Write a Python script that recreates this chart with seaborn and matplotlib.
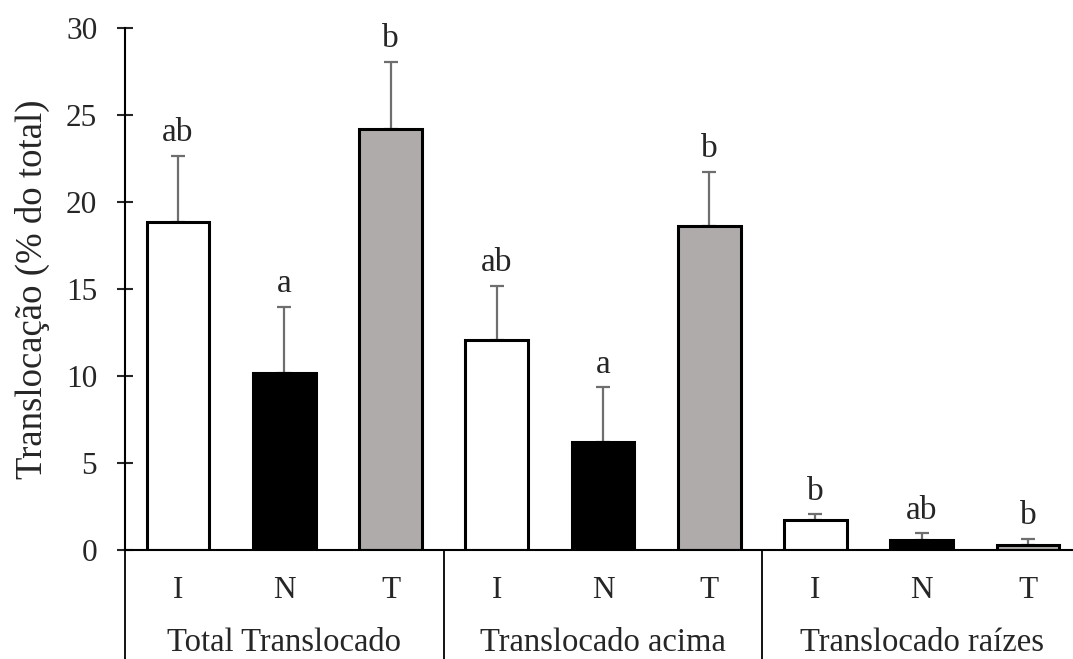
import numpy as np
import pandas as pd
import matplotlib
matplotlib.use("Agg")
import matplotlib.pyplot as plt
import seaborn as sns

# ------------------ DATA ------------------
grupos = ["Total Translocado", "Translocado acima", "Translocado raízes"]
tratamentos = ["I", "N", "T"]
media = [18.85, 10.15, 24.2, 12.05, 6.2, 18.6, 1.7, 0.6, 0.3]
erro = [3.8, 3.8, 3.85, 3.15, 3.15, 3.15, 0.35, 0.35, 0.35]
letras = ["ab", "a", "b", "ab", "a", "b", "b", "ab", "b"]
cores = {"I": "white", "N": "black", "T": "#AFABAB"}
yticks = [0, 5, 10, 15, 20, 25, 30]

df = pd.DataFrame({
    "grupo": np.repeat(grupos, 3),
    "trat": tratamentos * 3,
    "valor": media,
})
df["chave"] = df["grupo"] + " " + df["trat"]

# ------------------ STYLE ------------------
sns.set_style("ticks")
plt.rcParams["font.family"] = ["Liberation Serif", "DejaVu Serif"]

fig = plt.figure(figsize=(10.73, 6.59), dpi=100)
ax = fig.add_axes([125 / 1073, 1 - 550 / 659, 956 / 1073, 522 / 659])

# ------------------ BARS ------------------
sns.barplot(data=df, x="chave", y="valor", hue="trat", order=list(df["chave"]),
            hue_order=tratamentos, palette=cores, dodge=False, width=0.59,
            saturation=1, edgecolor="black", linewidth=2.2, errorbar=None,
            legend=False, ax=ax)

pos = np.arange(len(media))
ax.errorbar(pos, media, yerr=[np.zeros(len(erro)), erro], fmt="none",
            ecolor="#6e6e6e", elinewidth=1.6, capsize=5, capthick=1.6, zorder=0.5)

for i, (m, e, l) in enumerate(zip(media, erro, letras)):
    ax.text(i, m + e + 0.85, l, ha="center", va="baseline", fontsize=24)

# ------------------ AXES ------------------
ax.set_xlim(-0.5, 8.5)
ax.set_ylim(0, 30)
ax.set_yticks(yticks)
ax.set_xticks(pos)
ax.set_xticklabels(tratamentos * 3)
ax.set_xlabel("")
ax.set_ylabel("Translocação (% do total)", fontsize=26.5, va="center")
ax.yaxis.set_label_coords(-0.097, 0.5)

for s in ["top", "right"]:
    ax.spines[s].set_visible(False)
for s in ["left", "bottom"]:
    ax.spines[s].set_linewidth(1.5)
    ax.spines[s].set_color("black")

ax.tick_params(axis="y", direction="inout", length=12, width=1.5, labelsize=22.5, pad=14)
ax.tick_params(axis="x", length=0, labelsize=22.5, pad=19)

# group separators and labels below the axis
tr = ax.get_xaxis_transform()
for xv in [-0.5, 2.5, 5.5]:
    ax.plot([xv, xv], [0, -0.3], transform=tr, color="black", lw=1.3, clip_on=False)
for k, g in enumerate(grupos):
    ax.text(1 + 3 * k, -0.194, g, transform=tr, ha="center", va="baseline", fontsize=23.5)

fig.savefig("out.png", dpi=100)
